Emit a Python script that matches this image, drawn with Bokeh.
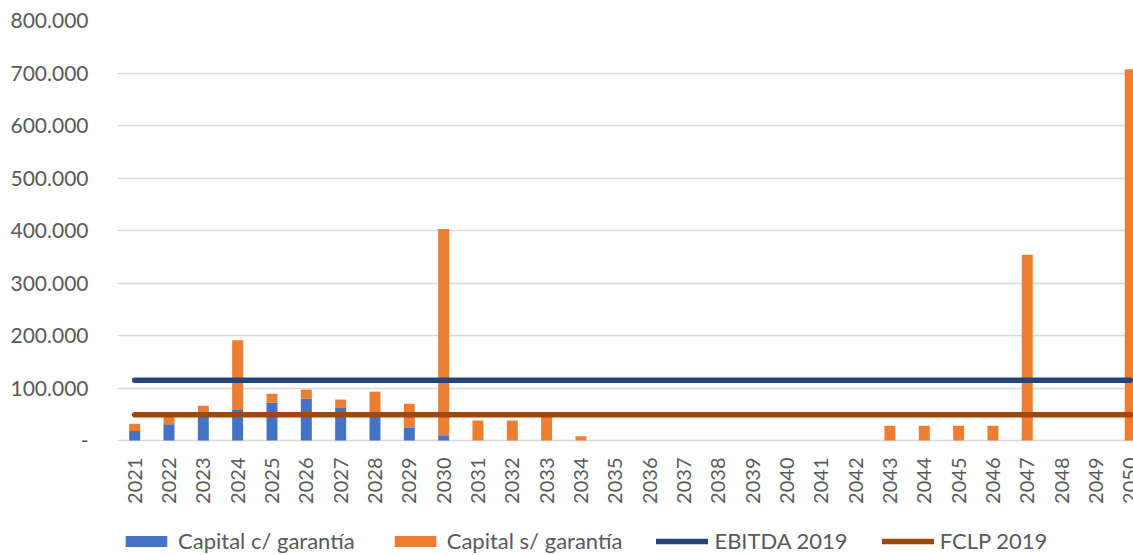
from bokeh.plotting import figure
from bokeh.models import ColumnDataSource, Range1d, FixedTicker, Legend, LegendItem
from bokeh.core.properties import value
from bokeh.embed import file_html
from bokeh.resources import INLINE
from math import pi

years = list(range(2021, 2051))
capital_con = [18000, 31000, 50000, 58000, 72000, 80000, 62000, 46000, 24000, 10000,
               0, 0, 0, 0, 0, 0, 0, 0, 0, 0,
               0, 0, 0, 0, 0, 0, 0, 0, 0, 0]
capital_sin = [14000, 19000, 16000, 133000, 17000, 17000, 16000, 47000, 46000, 393000,
               38000, 38000, 48000, 8000, 0, 0, 0, 0, 0, 0,
               0, 0, 28000, 28000, 28000, 28000, 354000, 0, 0, 707000]
ebitda_2019 = [115000] * 30
fclp_2019 = [49000] * 30
year_labels = [str(y) for y in years]
y_ticks = [0, 100000, 200000, 300000, 400000, 500000, 600000, 700000, 800000]
y_tick_labels = ["-", "100.000", "200.000", "300.000", "400.000", "500.000", "600.000", "700.000", "800.000"]
series_names = ["Capital c/ garantía", "Capital s/ garantía", "EBITDA 2019", "FCLP 2019"]

FONT = "Lato"
TXT = "#595959"
GRID = "#D9D9D9"

# layout constants (pixels)
W, H = 1133, 555
TOP, LEFT = 20, 117
PLOT_H = 420                      # pixels from 0 to 800.000
UNIT = PLOT_H / 800000.0          # pixels per value unit
Y_MIN = -(H - TOP - PLOT_H) / UNIT  # extend frame below zero to host labels/legend
LABEL_Y = -17 / UNIT              # top of year labels, 17 px below baseline

source = ColumnDataSource(dict(year=years, con=capital_con, sin=capital_sin,
                               ebitda=ebitda_2019, fclp=fclp_2019,
                               lab=year_labels, laby=[LABEL_Y] * len(years)))

p = figure(width=W, height=H, output_backend="svg", toolbar_location=None,
           x_range=Range1d(2020.5, 2020.5 + (W - LEFT) / 34.33), y_range=Range1d(Y_MIN, 800000),
           min_border_left=LEFT, min_border_right=0, min_border_top=TOP, min_border_bottom=0)
p.outline_line_color = None
p.background_fill_color = "white"
p.xaxis.visible = False

bars = p.vbar_stack(["con", "sin"], x="year", width=0.32, source=source,
                    color=["#4472C4", "#ED7D31"], line_color=None)
l1 = p.line("year", "ebitda", source=source, line_color="#264478", line_width=5.5, line_cap="round")
l2 = p.line("year", "fclp", source=source, line_color="#9E480E", line_width=5.5, line_cap="round")

# year labels (rotated, reading bottom-to-top)
p.text(x="year", y="laby", text="lab", source=source, angle=pi / 2,
       text_align="right", text_baseline="middle",
       text_font=value(FONT), text_font_size="20px", text_color=TXT)

# y axis
p.yaxis.ticker = FixedTicker(ticks=y_ticks)
p.yaxis.major_label_overrides = dict(zip(y_ticks, y_tick_labels))
p.yaxis.major_tick_line_color = None
p.yaxis.minor_tick_line_color = None
p.yaxis.axis_line_color = None
p.yaxis.major_label_standoff = 23
p.yaxis.major_label_text_font = FONT
p.yaxis.major_label_text_font_size = "21px"
p.yaxis.major_label_text_color = TXT

p.xgrid.grid_line_color = None
p.ygrid.ticker = FixedTicker(ticks=y_ticks)
p.ygrid.grid_line_color = GRID
p.ygrid.grid_line_width = 1.5

legend = Legend(items=[LegendItem(label=series_names[0], renderers=[bars[0]]),
                       LegendItem(label=series_names[1], renderers=[bars[1]]),
                       LegendItem(label=series_names[2], renderers=[l1]),
                       LegendItem(label=series_names[3], renderers=[l2])],
                orientation="horizontal", location=(3, 1),
                border_line_color=None, background_fill_alpha=0,
                padding=0, margin=0, spacing=34, label_standoff=6,
                glyph_width=52, glyph_height=14,
                label_text_font=FONT, label_text_font_size="22px", label_text_color=TXT)
p.add_layout(legend, "center")

open("out.html", "w").write(file_html(p, INLINE))
